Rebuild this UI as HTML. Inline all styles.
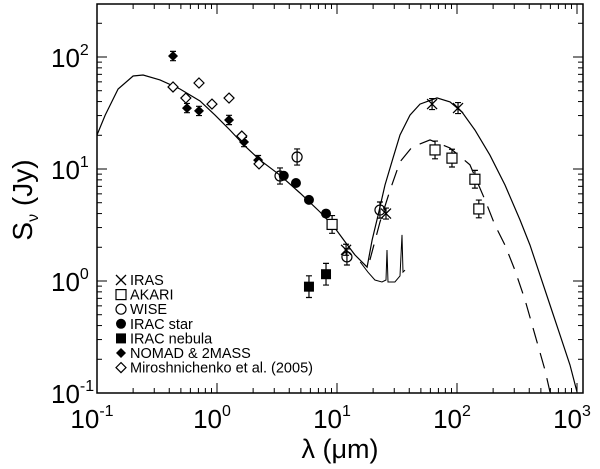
<!DOCTYPE html>
<html><head><meta charset="utf-8"><style>
body{margin:0;background:#fff}
svg{display:block;font-family:"Liberation Sans",sans-serif}
</style></head><body>
<svg id="chart" width="600" height="469" viewBox="0 0 600 469" xmlns="http://www.w3.org/2000/svg">
<g id="axes"></g>
<g id="marks"></g>
<g id="legend"></g>
<text x="340" y="458" font-size="27" text-anchor="middle">λ (μm)</text>
<text transform="translate(32,200) rotate(-90)" font-size="28" text-anchor="middle">S<tspan font-size="16" dy="6">ν</tspan><tspan dy="-6"> (Jy)</tspan></text>
</svg>
<script>
const modelLam=[0.1,0.117,0.15,0.2,0.242,0.335,0.492,0.721,0.962,1.28,1.71,2.28,3.35,4.92,7.21,9.62,11.7,14.1,17.8,19.6,22.0,25.1,29.3,33.5,40.6,49.2,68.1,87.4,110,141,188,251,335,406,492,596,721,875,1000];
const modelS=[20.1,30.3,51.8,67.6,69,62.4,51.8,40.5,30.3,22.3,16.0,12.0,8.8,6.1,4.13,2.97,2.23,1.71,1.33,2.32,3.88,7.2,12.5,20.1,30.3,38,43.1,39.7,32.3,22.3,13.3,7.2,3.51,2.09,1.13,0.61,0.33,0.178,0.102];
const pahLam=[15.6,18.1,20.7,23.7,25.6,26.1,26.6,30.4,33.5,34.8,35.5,36.9];
const pahS=[1.48,1.20,1.02,0.98,1.02,1.89,0.98,0.98,1.11,2.58,1.2,1.25];
const dashLam=[18.8,22.8,27.7,33.5,42.2,59.6,87.4,128,171,207,251,304,369,447,541,596];
const dashS=[1.54,3.37,6.5,11.6,15.7,18.2,15.4,10.9,5.3,3.16,2.09,1.25,0.68,0.33,0.16,0.102];
const irasLam=[11.9,25.6,62,102];
const irasS=[1.9,4.0,38,35];
const akariLam=[9.1,65.6,90.8,141,152];
const akariS=[3.2,14.8,12.5,8.1,4.4];
const wiseLam=[3.35,4.65,12.1,22.8];
const wiseS=[8.66,12.8,1.64,4.3];
const iracStarLam=[3.6,4.55,5.84,8.1];
const iracStarS=[8.7,7.5,5.3,4.0];
const iracNebLam=[5.84,8.1];
const iracNebS=[0.89,1.15];
const nomadLam=[0.43,0.562,0.708,1.26,1.68,2.2];
const nomadS=[102,35,33,27.4,17.4,12];
const miroLam=[0.43,0.55,0.708,0.908,1.26,1.61,2.24];
const miroS=[54,43,58.6,38,43,19.7,11.1];
const xTickLabels=["-1","0","1","2","3"];
const yTickLabels=["-1","0","1","2"];

const NS="http://www.w3.org/2000/svg";
const L=97,R=583,T=4,B=393;
const X=l=>L+(Math.log10(l)+1)*120;
const Y=s=>B-(Math.log10(s)+1)*112;
function mk(tag,attrs,parent){const e=document.createElementNS(NS,tag);for(const k in attrs)e.setAttribute(k,attrs[k]);parent.appendChild(e);return e;}
const ax=document.getElementById('axes'),mg=document.getElementById('marks'),lg=document.getElementById('legend');
const frame=mk('rect',{x:L,y:T,width:R-L,height:B-T,fill:'none',stroke:'#000','stroke-width':1.5},ax);


for(let d=-1;d<=3;d++){for(let m=1;m<10;m++){const v=m*Math.pow(10,d);const x=X(v);if(x>R+0.5)continue;const len=m===1?10:5;
 const t1=mk('line',{x1:x,x2:x,y1:B,y2:B-len,stroke:'#000'},ax);
 const t2=mk('line',{x1:x,x2:x,y1:T,y2:T+len,stroke:'#000'},ax);}}
xTickLabels.forEach(p=>{const x=X(Math.pow(10,+p));const t=mk('text',{x:x-5,y:B+35,'font-size':26,'text-anchor':'middle'},ax);t.textContent='10';
 const s=mk('tspan',{'font-size':16,dy:-12},t);s.textContent=p;});
for(let d=-1;d<=2;d++){for(let m=1;m<10;m++){const v=m*Math.pow(10,d);const y=Y(v);if(y<T)continue;const len=m===1?10:5;
 const t1=mk('line',{x1:L,x2:L+len,y1:y,y2:y,stroke:'#000'},ax);
 const t2=mk('line',{x1:R,x2:R-len,y1:y,y2:y,stroke:'#000'},ax);}}
yTickLabels.forEach(p=>{const y=Y(Math.pow(10,+p));const t=mk('text',{x:51,y:y+10,'font-size':26,'text-anchor':'start'},ax);t.textContent='10';
 const s=mk('tspan',{'font-size':16,dy:-12},t);s.textContent=p;});
function line(lams,ss,extra,name){const d=lams.map((l,i)=>(i?'L':'M')+X(l).toFixed(1)+','+Y(ss[i]).toFixed(1)).join('');
 const p=mk('path',Object.assign({d:d,fill:'none',stroke:'#000','stroke-width':1.2},extra),mg);}
line(modelLam,modelS,{},'model-curve');
line(pahLam,pahS,{'stroke-width':1},'pah-spectrum');
line(dashLam,dashS,{'stroke-dasharray':'16 10'},'dashed-model-curve');
function marker(type,x,y,g){const r=5;
 if(type==='x'){mk('path',{d:`M${x-r},${y-r}L${x+r},${y+r}M${x-r},${y+r}L${x+r},${y-r}`,stroke:'#000','stroke-width':1.3,fill:'none'},g);}
 else if(type==='sq'){mk('rect',{x:x-r,y:y-r,width:2*r,height:2*r,fill:'#fff',stroke:'#000','stroke-width':1.2},g);}
 else if(type==='fsq'){mk('rect',{x:x-r,y:y-r,width:2*r,height:2*r,fill:'#000'},g);}
 else if(type==='oc'){mk('circle',{cx:x,cy:y,r:r,fill:'none',stroke:'#000','stroke-width':1.2},g);}
 else if(type==='fc'){mk('circle',{cx:x,cy:y,r:r,fill:'#000'},g);}
 else if(type==='fd'){mk('path',{d:`M${x},${y-r}L${x+r},${y}L${x},${y+r}L${x-r},${y}Z`,fill:'#000'},g);}
 else if(type==='od'){mk('path',{d:`M${x},${y-r}L${x+r},${y}L${x},${y+r}L${x-r},${y}Z`,fill:'#fff',stroke:'#000','stroke-width':1.2},g);}}
function series(lams,ss,type,err,name){lams.forEach((l,i)=>{const g=mk('g',{},mg);
 const x=X(l),y=Y(ss[i]);if(err){const y1=Y(ss[i]*(1+err)),y2=Y(ss[i]/(1+err));
 mk('path',{d:`M${x},${y1}L${x},${y2}M${x-3},${y1}L${x+3},${y1}M${x-3},${y2}L${x+3},${y2}`,stroke:'#000','stroke-width':1.2,fill:'none'},g);}
 marker(type,x,y,g);});}
series(irasLam,irasS,'x',0.12,'iras-point');
series(akariLam,akariS,'sq',0.2,'akari-point');
series(wiseLam,wiseS,'oc',0.18,'wise-point');
series(iracStarLam,iracStarS,'fc',0,'irac-star-point');
series(iracNebLam,iracNebS,'fsq',0.25,'irac-nebula-point');
series(nomadLam,nomadS,'fd',0.1,'nomad-2mass-point');
series(miroLam,miroS,'od',0.05,'miroshnichenko-point');
const legItems=[['x','IRAS'],['sq','AKARI'],['oc','WISE'],['fc','IRAC star'],['fsq','IRAC nebula'],['fd','NOMAD & 2MASS'],['od','Miroshnichenko et al. (2005)']];
legItems.forEach((it,i)=>{const y=280+i*14.6;const g=mk('g',{},lg);
 marker(it[0],121,y,g);const t=mk('text',{x:130,y:y+5,'font-size':14.5},g);t.textContent=it[1];});
</script>
</body></html>
